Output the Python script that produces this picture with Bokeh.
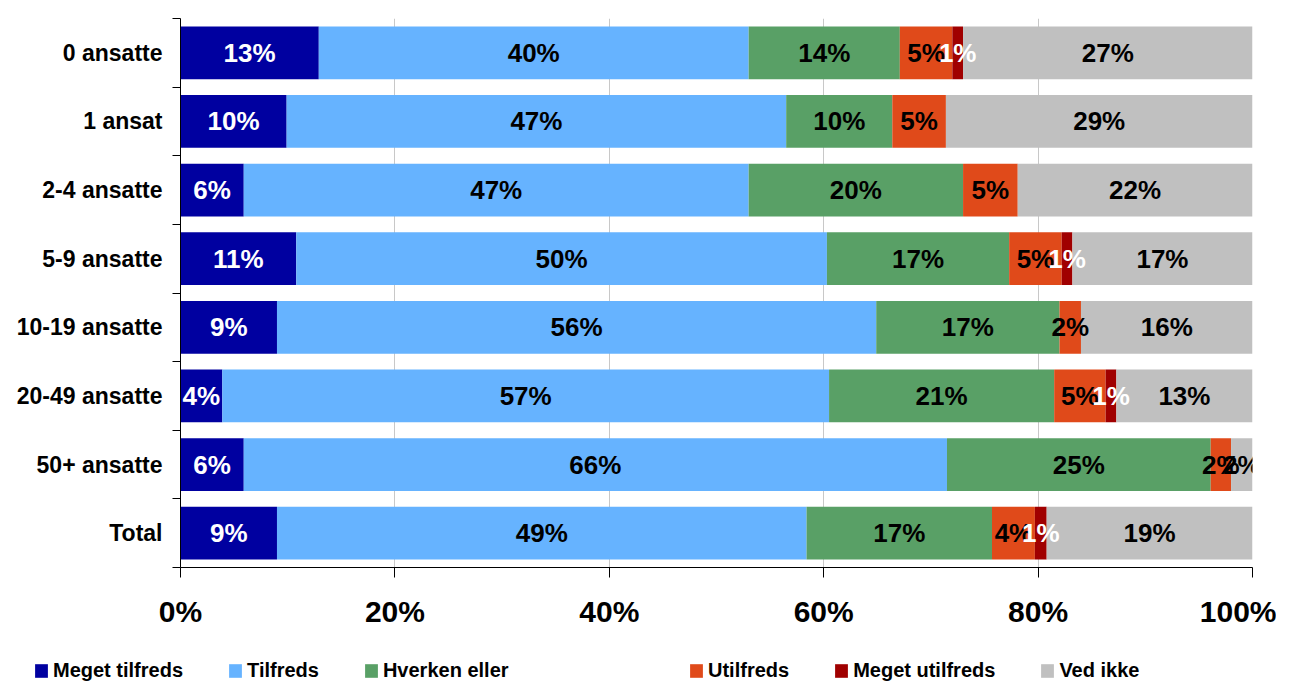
from bokeh.plotting import figure
from bokeh.layouts import column
from bokeh.models import ColumnDataSource, FixedTicker, PrintfTickFormatter, Legend, LegendItem, Range1d
from bokeh.embed import file_html
from bokeh.resources import INLINE
from bokeh.core.properties import value

categories = ["0 ansatte", "1 ansat", "2-4 ansatte", "5-9 ansatte",
              "10-19 ansatte", "20-49 ansatte", "50+ ansatte", "Total"]
series = ["Meget tilfreds", "Tilfreds", "Hverken eller", "Utilfreds", "Meget utilfreds", "Ved ikke"]

meget_tilfreds = [12.9, 9.9, 5.9, 10.8, 9.0, 3.9, 5.9, 9.0]
tilfreds = [40.1, 46.6, 47.1, 49.5, 55.9, 56.6, 65.6, 49.4]
hverken_eller = [14.1, 9.9, 20.0, 17.0, 17.1, 21.0, 24.6, 17.3]
utilfreds = [4.9, 5.0, 5.1, 4.9, 2.0, 4.8, 1.9, 4.0]
meget_utilfreds = [1.0, 0.0, 0.0, 1.0, 0.0, 1.0, 0.0, 1.1]
ved_ikke = [27.0, 28.6, 21.9, 16.8, 16.0, 12.7, 2.0, 19.2]

colors = ["#0000A0", "#66B3FF", "#59A066", "#E04A1A", "#A00000", "#C0C0C0"]
label_colors = ["white", "black", "black", "black", "white", "black"]
x_ticks = [0, 20, 40, 60, 80, 100]

all_series = [meget_tilfreds, tilfreds, hverken_eller, utilfreds, meget_utilfreds, ved_ikke]
keys = ["s%d" % i for i in range(len(series))]
ys = [i + 1 for i in range(len(categories))]

data = {"y": ys}
for k, vals in zip(keys, all_series):
    data[k] = vals
source = ColumnDataSource(data)

FONT = "Liberation Sans"

p = figure(width=1276, height=638, output_backend="svg", toolbar_location=None,
           x_range=Range1d(0, 100), y_range=Range1d(len(categories) + 0.5, 0.5),
           min_border_left=180, min_border_right=24, min_border_top=18, min_border_bottom=71)
p.outline_line_color = None
p.background_fill_color = "white"
p.border_fill_color = "white"
p.frame_align = False

renderers = p.hbar_stack(keys, y="y", height=0.77, color=colors, line_color=None, source=source)

# segment labels
lx, ly, lt, lc = [], [], [], []
for j in range(len(categories)):
    cum = 0.0
    for i, vals in enumerate(all_series):
        v = vals[j]
        if v > 0:
            lx.append(cum + v / 2.0)
            ly.append(ys[j])
            lt.append("%d%%" % int(round(v)))
            lc.append(label_colors[i])
        cum += v
lsrc = ColumnDataSource(dict(x=lx, y=ly, t=lt, c=lc))
p.text(x="x", y="y", text="t", text_color="c", source=lsrc,
       text_font=value(FONT), text_font_style="bold", text_font_size="26px",
       text_align="center", text_baseline="middle")

# x axis
p.xaxis.ticker = FixedTicker(ticks=x_ticks)
p.xaxis.formatter = PrintfTickFormatter(format="%d%%")
p.xaxis.major_tick_out = 10
p.xaxis.major_tick_in = 0
p.xaxis.minor_tick_line_color = None
p.xaxis.axis_line_color = "black"
p.xaxis.major_tick_line_color = "black"
p.xaxis.major_label_text_font = FONT
p.xaxis.major_label_text_font_style = "bold"
p.xaxis.major_label_text_font_size = "30px"
p.xaxis.major_label_text_color = "black"
p.xaxis.major_label_standoff = 17

# y axis
p.yaxis.ticker = FixedTicker(ticks=ys, minor_ticks=[y - 0.5 for y in ys] + [ys[-1] + 0.5])
p.yaxis.major_label_overrides = {y: c for y, c in zip(ys, categories)}
p.yaxis.major_tick_out = 0
p.yaxis.major_tick_in = 0
p.yaxis.minor_tick_out = 8
p.yaxis.minor_tick_in = 0
p.yaxis.minor_tick_line_color = "black"
p.yaxis.axis_line_color = "black"
p.yaxis.major_label_text_font = FONT
p.yaxis.major_label_text_font_style = "bold"
p.yaxis.major_label_text_font_size = "23px"
p.yaxis.major_label_text_color = "black"
p.yaxis.major_label_standoff = 10

p.xgrid.grid_line_color = "#C8C8C8"
p.xgrid.grid_line_width = 1
p.ygrid.grid_line_color = None

# legend strip (separate panel below the chart); its bars fall outside its view
lg = figure(width=1276, height=44, output_backend="svg", toolbar_location=None,
            x_range=Range1d(0, 100), y_range=Range1d(100, 101),
            x_axis_location=None, y_axis_location=None,
            min_border_left=0, min_border_right=0, min_border_top=0, min_border_bottom=0)
lg.outline_line_color = None
lg.xgrid.grid_line_color = None
lg.ygrid.grid_line_color = None
lg.frame_align = False
lg_renderers = lg.hbar_stack(keys, y="y", height=0.77, color=colors, line_color=None, source=source)

items = [LegendItem(label=s, renderers=[r]) for s, r in zip(series, lg_renderers)]
for its, loc in [(items[:3], (33, 0)), (items[3:], (688, 0))]:
    leg = Legend(items=its, location=loc, orientation="horizontal",
                 glyph_width=16, glyph_height=17, label_standoff=4, spacing=44,
                 padding=0, margin=0, border_line_color=None, background_fill_alpha=0,
                 label_text_font=FONT, label_text_font_style="bold",
                 label_text_font_size="20px", label_text_color="black",
                 label_height=22)
    lg.add_layout(leg)

layout = column(p, lg, spacing=0)
open("out.html", "w").write(file_html(layout, INLINE))
